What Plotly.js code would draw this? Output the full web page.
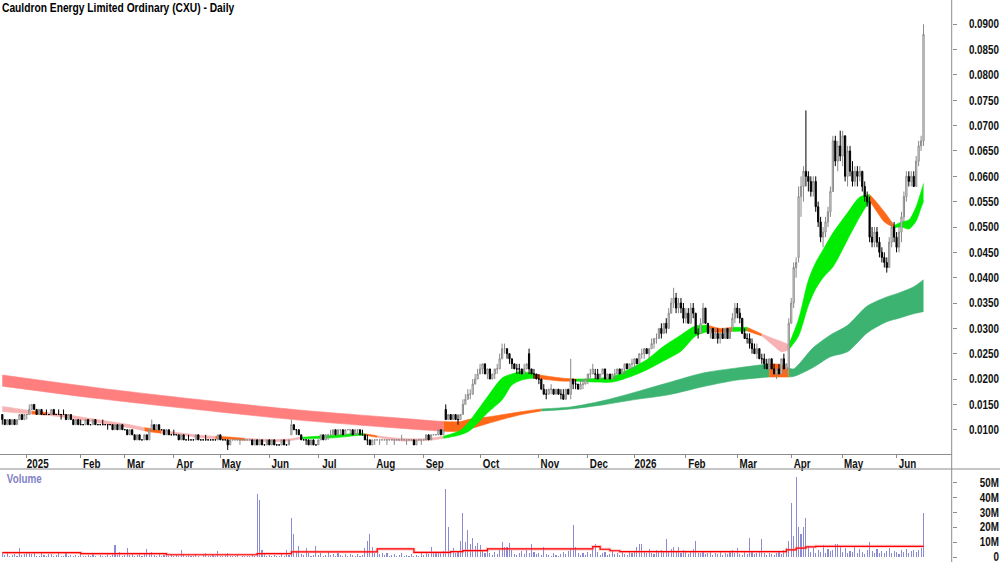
<!DOCTYPE html>
<html><head><meta charset="utf-8">
<script src="https://cdn.plot.ly/plotly-3.0.1.min.js"></script>
<style>html,body{margin:0;padding:0;background:#fff;}#chart{width:1000px;height:562px;}</style>
</head><body><div id="chart"></div>
<script>
// ---- DATA (prices in tenths of a cent = 0.001 AUD; volume in millions of shares) ----
const open = [
13,12,11,12,11,12,11,12,13,12,
13,13,14,15,14,13,14,13,13,13,13,14,13,13,13,13,13,12,13,12,11,
12,11,11,11,12,11,11,12,11,11,11,11,11,11,11,10,11,10,11,10,
10,9,10,9,8,9,8,8,9,8,10,11,10,11,10,10,9,10,9,9,9,
9,8,9,8,8,8,8,8,9,8,8,8,8,8,8,8,8,9,8,
8,8,7,8,8,8,8,8,8,8,8,8,7,8,7,8,7,7,8,7,8,7,
7,7,8,7,7,9,11,10,10,9,8,8,8,7,8,7,7,8,9,8,
9,9,9,10,9,10,10,9,10,10,10,9,10,10,9,9,8,8,7,8,8,8,8,
8,8,8,8,8,8,8,8,8,8,8,8,8,7,8,8,8,8,9,8,9,
9,9,10,9,14,12,13,12,13,12,12,13,15,16,17,17,19,20,21,22,23,21,
22,20,21,22,22,24,26,26,25,24,23,22,22,22,21,22,25,22,21,21,20,20,18,
17,17,18,18,17,18,17,17,16,18,17,20,19,19,18,19,19,20,21,21,
21,21,20,21,22,20,21,20,21,21,22,21,22,23,22,23,23,24,23,25,25,
26,25,26,27,28,28,30,29,31,30,33,35,36,34,35,34,32,33,31,34,
33,29,29,31,34,31,29,30,28,29,28,29,28,30,28,30,32,34,33,32,
29,28,28,27,26,25,26,24,24,23,22,24,22,21,22,21,24,22,22,31,35,42,
44,56,58,61,60,59,57,59,54,51,48,49,51,53,57,67,63,66,64,68,
60,65,61,59,61,60,61,58,56,55,48,47,49,47,45,44,43,42,47,50,48,
46,49,52,56,60,59,60,58,63,66,67];
const high = [
13,12,12,12,12,12,12,13,13,13,
13,15,15,15,14,14,14,13,14,13,14,14,13,14,13,14,13,13,13,12,12,
12,12,11,12,12,11,12,12,11,11,12,11,11,11,11,11,11,11,11,10,
10,10,10,9,9,9,8,9,9,10,12,11,11,11,10,10,10,10,9,10,9,
9,9,9,8,9,8,8,9,9,8,8,9,8,8,8,8,9,9,8,
8,8,8,8,8,8,8,8,8,8,8,8,8,8,8,8,7,8,8,8,8,7,
7,8,8,7,8,12,11,10,10,9,8,8,8,8,8,7,8,9,9,9,
9,10,10,10,10,10,10,10,10,10,10,10,10,10,10,9,9,8,8,8,8,8,8,
8,8,8,8,8,8,8,9,8,8,8,8,8,8,8,8,8,9,9,9,9,
9,10,10,10,15,13,13,13,13,13,13,16,17,18,18,20,21,22,23,23,23,22,
22,21,22,23,25,27,27,26,25,24,23,23,23,22,23,23,26,22,22,21,21,20,19,
18,18,19,18,18,18,18,18,18,18,24,20,20,19,20,20,20,21,22,23,
22,22,21,22,22,21,21,21,22,22,22,22,23,23,23,24,24,24,25,26,26,
26,26,28,28,29,30,31,31,32,34,36,38,37,36,36,35,34,34,35,35,
33,30,32,35,34,31,30,30,30,30,29,30,30,30,30,33,35,35,34,32,
30,29,29,28,27,27,26,25,25,24,24,24,23,22,23,24,25,23,32,36,43,44,
58,60,62,73,61,60,60,60,55,52,50,52,54,58,68,68,67,69,69,68,
66,66,63,62,62,62,61,59,57,56,50,50,50,48,46,45,44,48,51,51,49,
50,53,57,61,61,61,61,64,67,68,90];
const low = [
11,11,11,11,11,11,11,12,12,12,
12,13,14,14,13,13,13,13,13,13,13,13,13,13,12,13,12,12,12,11,11,
11,11,11,11,11,11,11,11,11,11,11,11,10,11,10,10,10,10,10,10,
9,9,9,8,8,8,8,8,8,8,10,10,10,10,10,9,9,9,9,9,9,
8,8,8,8,8,8,8,8,8,8,8,8,8,8,8,8,8,8,8,
8,6,7,8,8,8,7,8,8,8,8,7,7,7,7,7,7,7,7,7,7,7,
7,7,7,7,7,9,10,9,9,8,8,7,7,7,7,7,7,8,8,8,
8,9,9,9,9,9,9,9,10,9,9,9,9,9,9,8,7,7,7,7,8,7,8,
8,7,8,8,7,8,8,8,8,7,8,8,7,7,8,7,8,8,8,8,9,
9,9,9,9,12,12,12,12,12,11,12,13,15,16,16,17,19,20,21,21,21,20,
20,20,20,21,22,24,25,24,23,22,22,21,21,21,21,22,21,21,20,20,19,18,17,
16,17,17,17,17,17,16,16,16,17,16,18,18,18,18,18,19,19,20,21,
20,20,20,21,20,20,20,20,20,21,21,21,21,22,22,22,22,23,23,24,24,
25,24,26,26,27,28,28,29,29,30,33,34,33,33,33,31,31,31,31,32,
29,28,29,31,31,29,28,28,28,27,27,28,28,28,28,30,31,32,31,29,
28,27,26,25,25,24,24,23,22,22,22,22,21,20,21,21,22,21,22,31,34,40,
43,52,55,58,57,56,56,53,50,47,46,48,50,52,57,62,61,63,62,59,
58,60,58,58,58,59,57,55,54,47,46,46,46,44,43,42,41,42,46,47,45,
45,47,51,55,58,58,58,58,62,65,66];
const close = [
12,11,12,11,12,11,12,13,12,13,
13,14,15,14,13,14,13,13,13,13,14,13,13,13,13,13,12,13,12,11,12,
11,11,11,12,11,11,12,11,11,11,11,11,11,11,10,11,10,11,10,10,
9,10,9,8,9,8,8,9,8,10,11,10,11,10,10,9,10,9,9,9,9,
8,9,8,8,8,8,8,9,8,8,8,8,8,8,8,8,9,8,8,
8,7,8,8,8,8,8,8,8,8,8,7,8,7,8,7,7,8,7,8,7,7,
7,8,7,7,8,11,10,10,9,8,8,8,7,8,7,7,8,9,8,9,
9,9,10,9,10,10,9,10,10,10,9,10,10,9,9,8,8,7,8,8,8,8,8,
8,8,8,8,8,8,8,8,8,8,8,8,7,8,8,8,8,9,8,9,9,
9,10,9,10,12,13,12,13,12,12,13,15,16,17,17,19,20,21,22,23,21,22,
20,21,22,22,24,26,26,25,24,23,22,22,22,21,22,23,22,21,21,20,20,18,17,
17,18,18,17,18,17,17,16,18,17,20,19,19,18,19,19,20,21,21,22,
21,20,21,22,20,21,20,21,21,22,21,22,23,22,23,23,24,23,25,25,26,
25,26,27,28,28,30,29,31,30,33,35,36,34,35,34,32,33,31,34,33,
29,29,31,34,31,29,30,28,29,28,29,28,30,28,30,32,34,33,32,29,
28,28,27,26,25,26,24,24,23,22,24,22,21,22,21,24,22,23,31,35,42,43,
56,58,61,60,59,57,59,54,51,48,49,51,53,57,67,63,66,64,68,60,
65,61,59,61,60,61,58,56,55,48,47,49,47,45,44,43,42,47,50,48,46,
49,52,56,60,59,60,58,63,66,67,88];
const volume = [
2.5,1.2,3.0,0.8,1.5,2.2,0.6,5.8,1.4,2.0,
2.8,3.5,1.9,2.4,1.0,0.7,2.6,1.3,0.5,1.8,
2.2,0.9,1.4,3.1,0.6,1.0,2.4,0.8,1.6,0.5,
1.2,0.9,2.1,0.4,0.7,1.5,0.5,1.9,0.6,0.3,
1.1,0.8,0.4,1.7,0.6,2.0,8.1,1.2,3.3,0.9,
1.4,6.0,1.1,2.8,0.7,1.6,3.0,0.5,2.2,5.5,
2.7,3.6,1.3,0.8,2.1,0.6,1.4,0.4,0.9,1.8,
0.5,1.2,0.7,5.0,2.3,0.9,1.5,0.4,0.8,1.9,
0.6,0.3,1.1,2.4,0.5,0.8,1.3,0.4,3.9,0.7,
0.5,1.6,2.6,0.9,0.4,0.7,1.2,0.3,0.6,1.0,
0.4,0.8,1.5,0.6,42.0,38.0,5.0,1.8,0.9,1.4,
0.6,1.1,0.5,0.8,1.7,0.4,5.0,1.2,26.0,15.5,
3.2,7.5,2.0,1.1,6.0,2.4,0.9,1.6,7.5,1.3,
2.8,0.9,1.5,3.6,1.2,2.0,0.7,2.9,1.4,0.6,
1.8,0.9,2.3,1.1,0.5,1.7,0.8,1.3,6.0,11.0,
15.5,7.0,2.6,3.8,1.9,2.7,1.2,2.4,0.8,1.6,
2.1,0.6,1.3,2.5,0.9,1.1,0.5,2.0,0.7,1.5,
1.0,2.6,1.4,3.0,2.2,7.0,3.1,2.5,3.6,2.8,
4.1,46.0,20.0,3.4,6.0,2.7,4.2,10.5,29.5,10.0,
18.0,9.0,13.0,7.5,9.5,8.0,3.8,2.9,6.0,2.4,
1.6,3.5,2.1,4.4,10.0,7.0,6.5,9.5,5.0,2.2,
1.3,2.7,3.9,1.8,4.6,2.5,8.5,3.2,1.9,2.8,
1.4,6.5,2.3,1.2,0.9,2.6,1.5,0.7,1.9,3.4,
2.1,4.0,5.2,21.5,7.0,2.8,1.6,2.4,1.3,3.5,
2.0,4.8,8.5,3.1,1.4,2.6,3.3,1.2,2.2,5.0,
1.7,2.9,1.1,3.4,2.0,1.5,3.8,2.6,4.1,7.0,
8.5,8.5,3.6,2.4,5.1,3.0,2.2,4.5,3.3,5.0,
4.2,12.0,3.9,5.5,7.0,3.4,7.0,2.8,4.6,3.1,
2.0,3.7,5.3,10.5,3.0,2.4,4.1,1.8,2.6,3.5,
1.5,2.9,2.1,3.8,1.4,2.5,1.9,3.2,4.4,2.7,
6.0,2.3,1.6,3.6,2.2,13.0,3.1,1.8,2.7,4.0,
12.0,2.4,1.5,3.0,2.1,1.3,2.6,3.9,1.7,4.5,
6.0,11.0,36.0,14.0,53.5,20.0,15.5,20.0,26.0,7.5,
3.5,6.2,2.8,4.9,3.2,8.0,2.5,5.6,3.9,4.4,
9.0,9.0,6.5,3.1,5.8,2.7,4.3,3.6,7.2,2.4,
5.1,3.3,2.2,4.6,10.0,3.8,2.9,5.5,3.0,4.2,
2.6,3.7,5.9,2.8,4.0,3.1,2.3,4.7,3.5,5.2,
2.9,3.8,4.4,3.3,4.9,6.0,29.7];

// Volume moving average (millions), read at the bars where its level changes
const volMaIdx = [0,32,67,104,118,153,168,183,188,198,241,244,248,252,320,324,328,332,376];
const volMa    = [2.9,2.2,1.5,2.2,3.5,5.4,3.1,3.6,4.3,5.4,7.0,5.2,4.2,3.6,4.8,6.0,6.8,7.2,7.2];

// Short-term moving-average ribbon (upper/lower edge, 0.001 AUD) read at bar indices
const shortIdx = [0,7,12,18,27,40,53,58,60,65,72,81,87,94,99,108,115,122,135,146,148,153,162,170,176,180,187,191,198,204,208,212,217,222,228,234,242,249,256,263,270,277,283,288,293,298,304,310,314,318,321,325,329,332,335,339,345,350,354,357,360,364,367,370,373,375,376];
const shortUp = [14.6,14.1,13.7,13.4,12.9,11.9,10.9,10.4,10.3,9.9,9.4,8.9,8.7,8.5,8.3,8.1,8.1,8.5,8.9,9.3,9.2,8.8,8.3,8.2,8.4,8.7,9.9,11.9,16.5,20.2,21.0,21.5,21.0,20.6,20.2,20.0,20.1,20.5,22.0,23.8,26.5,28.7,30.5,30.6,30.0,30.2,30.2,28.9,28.1,27.4,26.8,31.8,39.5,43.0,45.5,48.8,52.8,55.9,56.4,54.8,53.0,50.3,51.0,51.4,54.0,57.0,58.6];
const shortLo = [13.6,13.3,13.1,12.9,12.3,11.3,10.3,9.8,9.6,9.3,9.0,8.4,8.2,8.1,7.9,7.7,7.7,8.2,8.4,8.9,8.9,8.5,7.8,7.8,8.0,8.3,9.0,9.9,13.3,15.9,18.8,19.8,20.2,19.9,19.6,19.6,19.4,19.4,20.4,21.8,23.6,25.5,28.5,29.4,29.2,29.4,29.5,28.5,26.9,25.4,25.8,28.5,34.5,37.8,40.0,42.1,47.5,52.0,55.2,53.0,51.0,49.9,50.0,49.6,51.2,53.8,55.1];
const shortBreaks = [0,12,18,58,65,87,99,122,148,153,180,217,234,288,298,304,310,321,354,364,376];
const shortTrend = ['fall','ease','fall','ease','fall','ease','fall','rise','ease','fall','rise','ease','rise','ease','rise','ease','fall','rise','ease','rise'];

// Long-term moving-average ribbon
const longIdx = [0,40,81,121,162,180,187,191,198,211,220,232,245,259,272,286,300,313,317,321,323,331,338,345,353,361,366,372,376];
const longUp = [20.8,18.2,15.9,13.9,12.3,11.6,11.6,12.1,12.5,13.5,14.1,14.5,15.7,17.5,19.3,21.2,22.2,23.0,22.9,22.2,22.0,26.2,28.7,30.6,34.4,36.2,37.0,38.2,39.6];
const longLo = [18.6,16.1,13.9,11.9,10.3,9.7,9.7,10.2,11.2,12.9,13.7,14.1,14.9,16.0,16.9,18.5,19.8,20.4,20.4,20.4,20.5,22.3,24.4,25.4,29.1,31.3,32.0,32.9,33.3];
const longBreaks = [0,180,220,313,321,376];
const longTrend = ['fall','ease','rise','ease','rise'];

// Axis ticks
const monthTickIdx = [10,32,50,70,89,109,129,152,172,195,219,239,258,279,300,322,343,365];
const monthTickText = ['2025','Feb','Mar','Apr','May','Jun','Jul','Aug','Sep','Oct','Nov','Dec','2026','Feb','Mar','Apr','May','Jun'];
const priceTicks = [0.010,0.015,0.020,0.025,0.030,0.035,0.040,0.045,0.050,0.055,0.060,0.065,0.070,0.075,0.080,0.085,0.090];
const volTicks = [0,10,20,30,40,50];
const volTickText = ['0','10M','20M','30M','40M','50M'];

// ---- DRAWING ----
const UNIT = 0.001;
const aud = a => a.map(v => v * UNIT);
const barIdx = close.map((_, i) => i);
const FONT = "'Liberation Sans',Arial,sans-serif";
const NARROW = 0.82;   // the reference uses a narrow bold face
const PAL = {
  short: {rise:'#00ec00', ease:'#ff6818', fall:'#f7b3b3'},
  long:  {rise:'#3cb371', ease:'#ff6818', fall:'#ff7f7f'}
};

function ribbon(idx, up, lo, breaks, trend, pal) {
  const out = [];
  for (let s = 0; s < trend.length; s++) {
    const xs = [], yl = [], yu = [];
    idx.forEach((v, k) => { if (v >= breaks[s] && v <= breaks[s+1]) { xs.push(v); yl.push(lo[k]*UNIT); yu.push(up[k]*UNIT); } });
    const c = pal[trend[s]];
    out.push({type:'scatter', mode:'lines', x:xs, y:yl, xaxis:'x', yaxis:'y', line:{width:0.6, color:c, shape:'spline', smoothing:0.8}, hoverinfo:'skip'});
    out.push({type:'scatter', mode:'lines', x:xs, y:yu, xaxis:'x', yaxis:'y', fill:'tonexty', fillcolor:c, line:{width:0.6, color:c, shape:'spline', smoothing:0.8}, hoverinfo:'skip'});
  }
  return out;
}

const traces = [
  ...ribbon(longIdx, longUp, longLo, longBreaks, longTrend, PAL.long),
  ...ribbon(shortIdx, shortUp, shortLo, shortBreaks, shortTrend, PAL.short),
  {type:'candlestick', x:barIdx, open:aud(open), high:aud(high), low:aud(low), close:aud(close),
   xaxis:'x', yaxis:'y3', whiskerwidth:0, hoverinfo:'skip',
   increasing:{line:{color:'#8a8a8a', width:1}, fillcolor:'#ffffff'},
   decreasing:{line:{color:'#000000', width:1}, fillcolor:'#000000'}},
  {type:'bar', x:barIdx, y:volume, xaxis:'x2', yaxis:'y2', width:0.45,
   marker:{color:'#8b8bd2', line:{width:0}}, hoverinfo:'skip'},
  {type:'scatter', mode:'lines', x:volMaIdx, y:volMa, xaxis:'x2', yaxis:'y4',
   line:{shape:'hv', color:'rgba(255,130,130,0.45)', width:3}, hoverinfo:'skip'},
  {type:'scatter', mode:'lines', x:volMaIdx, y:volMa, xaxis:'x2', yaxis:'y4',
   line:{shape:'hv', color:'#ff0000', width:1.2}, hoverinfo:'skip'}
];

const XR = [-0.94, 387.5];
const PRICE_RANGE = [0.00521, 0.09479];
const VOL_RANGE = [-3.36, 59.1];
const RIGHT = 0.9517;
const PDOM = [1 - 454/562, 1];
const VDOM = [0, 93/562];
const tickFont = {family:FONT, size:12, color:'#111111', weight:'bold'};
const AX = '#8c8c8c';

const layout = {
  width:1000, height:562,
  margin:{l:0, r:0, t:0, b:0},
  paper_bgcolor:'#ffffff', plot_bgcolor:'#ffffff',
  showlegend:false, boxgap:0.3, bargap:0,
  title:{text:'Cauldron Energy Limited Ordinary (CXU) - Daily', x:0.002, xanchor:'left', xref:'container',
         y:1 - 8/562, yanchor:'middle', yref:'container',
         font:{family:FONT, size:12.5, color:'#000000', weight:'bold'}},
  xaxis:{domain:[0, RIGHT], range:XR, anchor:'y', rangeslider:{visible:false},
         tickmode:'array', tickvals:monthTickIdx, ticktext:monthTickText,
         ticks:'outside', ticklen:3, tickcolor:AX, showline:true, linecolor:AX, linewidth:1,
         showgrid:false, zeroline:false, tickfont:tickFont, ticklabelshift:11, ticklabelstandoff:-4,
         ticklabeloverflow:'allow'},
  yaxis:{domain:PDOM, range:PRICE_RANGE, anchor:'x', side:'right', tickmode:'array', tickvals:priceTicks,
         ticks:'outside', ticklen:4, tickcolor:AX, showticklabels:false, showline:false,
         showgrid:false, zeroline:false},
  yaxis3:{overlaying:'y', range:PRICE_RANGE, side:'left', anchor:'free', position:1,
          tickmode:'array', tickvals:priceTicks, tickformat:'.4f', ticks:'', showline:false,
          showgrid:false, zeroline:false, tickfont:tickFont, ticklabeloverflow:'allow',
          ticklabelstandoff:1},
  xaxis2:{domain:[0, RIGHT], range:XR, anchor:'y2', matches:'x', showticklabels:false, ticks:'',
          showline:false, showgrid:false, zeroline:false},
  yaxis2:{domain:VDOM, range:VOL_RANGE, anchor:'x2', side:'right', tickmode:'array', tickvals:volTicks,
          ticks:'outside', ticklen:4, tickcolor:AX, showticklabels:false, showline:false,
          showgrid:false, zeroline:false},
  yaxis4:{overlaying:'y2', range:VOL_RANGE, side:'left', anchor:'free', position:1,
          tickmode:'array', tickvals:volTicks, ticktext:volTickText, ticks:'', showline:false,
          showgrid:false, zeroline:false, tickfont:tickFont, ticklabeloverflow:'allow',
          ticklabelstandoff:1},
  shapes:[
    {type:'line', xref:'paper', yref:'paper', x0:RIGHT, x1:RIGHT, y0:0, y1:1, line:{color:AX, width:1}},
    {type:'line', xref:'paper', yref:'paper', x0:0, x1:1, y0:VDOM[1], y1:VDOM[1], line:{color:AX, width:1}}
  ],
  annotations:[
    {text:'Volume', xref:'paper', yref:'paper', x:0.001, y:1 - 479/562, xanchor:'left', yanchor:'middle',
     showarrow:false, font:{family:FONT, size:12, color:'#8282c8', weight:'bold'}}
  ]
};

Plotly.newPlot('chart', traces, layout, {staticPlot:true, displayModeBar:false}).then(gd => {
  // condense every label horizontally about its anchor point, like the narrow face of the original
  gd.querySelectorAll('svg text').forEach(t => {
    if (!t.textContent) return;
    const ax = parseFloat(t.getAttribute('x')) || 0;
    const prev = t.getAttribute('transform') || '';
    t.setAttribute('transform', prev + ' translate(' + ax + ',0) scale(' + NARROW + ',1) translate(' + (-ax) + ',0)');
  });
});
</script>
</body></html>
